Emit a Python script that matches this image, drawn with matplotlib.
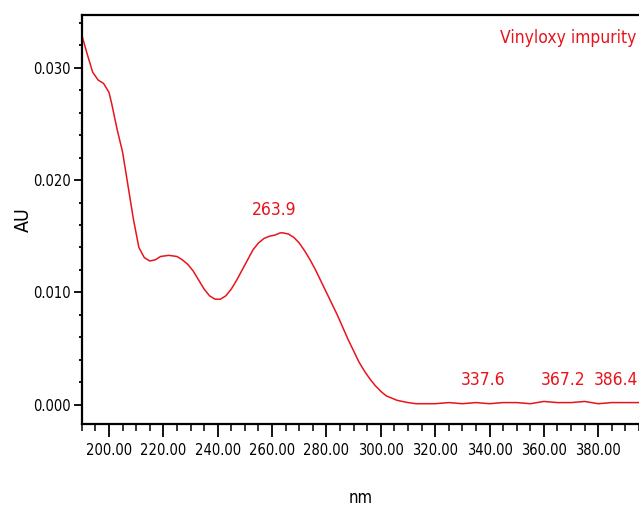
import matplotlib
matplotlib.use("Agg")
import matplotlib.pyplot as plt
from matplotlib.ticker import MultipleLocator, FormatStrFormatter

# narrow look of the instrument software
plt.rcParams["font.family"] = ["DejaVu Sans"]
plt.rcParams["font.stretch"] = "condensed"

# UV spectrum (wavelength nm, absorbance AU)
wavelength = [190, 192, 194, 196, 198, 200, 201, 203, 205, 207, 209, 211, 213,
              215, 217, 219, 222, 225, 227, 229, 231, 233, 235, 237, 239, 241,
              243, 245, 247, 249, 251, 253, 255, 257, 259, 261, 263, 264, 266,
              268, 270, 272, 274, 276, 278, 280, 282, 284, 286, 288, 290, 292,
              294, 296, 298, 300, 302, 304, 306, 308, 310, 313, 316, 320, 325,
              330, 335, 340, 345, 350, 355, 360, 365, 370, 375, 380, 385, 390,
              395]
absorbance = [0.0329, 0.0312, 0.0296, 0.0289, 0.0286, 0.0278, 0.0268, 0.0245,
              0.0225, 0.0195, 0.0165, 0.0140, 0.0131, 0.0128, 0.0129, 0.0132,
              0.0133, 0.0132, 0.0129, 0.0125, 0.0119, 0.0111, 0.0103, 0.0097,
              0.0094, 0.0094, 0.0097, 0.0103, 0.0111, 0.0120, 0.0129, 0.0138,
              0.0144, 0.0148, 0.0150, 0.0151, 0.0153, 0.0153, 0.0152, 0.0149,
              0.0144, 0.0137, 0.0129, 0.0120, 0.0110, 0.0100, 0.0090, 0.0080,
              0.0069, 0.0058, 0.0048, 0.0038, 0.0030, 0.0023, 0.0017, 0.0012,
              0.0008, 0.0006, 0.0004, 0.0003, 0.0002, 0.0001, 0.0001, 0.0001,
              0.0002, 0.0001, 0.0002, 0.0001, 0.0002, 0.0002, 0.0001, 0.0003,
              0.0002, 0.0002, 0.0003, 0.0001, 0.0002, 0.0002, 0.0002]

peak_labels = ["263.9", "337.6", "367.2", "386.4"]
peak_x = [263.9, 337.6, 367.2, 386.4]
peak_y = [0.0153, 0.0002, 0.0002, 0.0002]
label_dx = [-6, 0, 0, 0]   # points; main peak label sits a little left

RED = "#e8141c"

fig = plt.figure(figsize=(6.39, 5.12), dpi=100)
ax = fig.add_axes([0.128, 0.172, 0.872, 0.799])

ax.plot(wavelength, absorbance, color=RED, lw=1.1)

for lab, x, y, dx in zip(peak_labels, peak_x, peak_y, label_dx):
    ax.annotate(lab, (x, y), xytext=(dx, 10), textcoords="offset points",
                ha="center", va="bottom", color=RED, fontsize=12.5)

ax.text(0.995, 0.965, "Vinyloxy impurity", transform=ax.transAxes,
        ha="right", va="top", color=RED, fontsize=12.5)

ax.set_xlim(190, 395)
ax.set_ylim(-0.0017, 0.0347)
ax.xaxis.set_major_locator(MultipleLocator(20))
ax.xaxis.set_minor_locator(MultipleLocator(5))
ax.yaxis.set_major_locator(MultipleLocator(0.010))
ax.yaxis.set_minor_locator(MultipleLocator(0.002))
ax.xaxis.set_major_formatter(FormatStrFormatter("%.2f"))
ax.yaxis.set_major_formatter(FormatStrFormatter("%.3f"))

ax.spines["right"].set_visible(False)
for side in ("left", "bottom", "top"):
    ax.spines[side].set_linewidth(1.6)

ax.tick_params(axis="x", which="major", length=9, width=1.3, labelsize=10.5, pad=5)
ax.tick_params(axis="x", which="minor", length=5, width=1.1)
ax.tick_params(axis="y", which="major", length=6, width=1.3, labelsize=10.5, pad=2)
ax.tick_params(axis="y", which="minor", length=2, width=1.3)

ax.set_xlabel("nm", fontsize=12, labelpad=22)
ax.set_ylabel("AU", fontsize=14, labelpad=0)

fig.savefig("out.png", dpi=100)
